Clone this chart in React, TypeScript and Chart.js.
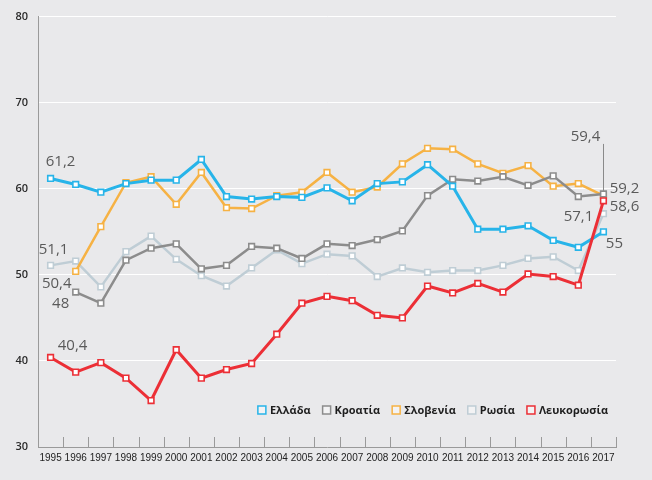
import React, { useEffect, useRef } from "react";
import { Chart, registerables } from "chart.js";

Chart.register(...registerables);

const years = ["1995","1996","1997","1998","1999","2000","2001","2002","2003","2004","2005","2006","2007","2008","2009","2010","2011","2012","2013","2014","2015","2016","2017"];
const greece = [61.2,60.5,59.6,60.6,61.0,61.0,63.4,59.1,58.8,59.1,59.0,60.1,58.6,60.6,60.8,62.8,60.3,55.3,55.3,55.7,54.0,53.2,55];
const croatia = [null,48,46.7,51.7,53.1,53.6,50.7,51.1,53.3,53.1,51.9,53.6,53.4,54.1,55.1,59.2,61.1,60.9,61.4,60.4,61.5,59.1,59.4];
const slovenia = [null,50.4,55.6,60.7,61.4,58.2,61.9,57.8,57.7,59.2,59.6,61.9,59.6,60.2,62.9,64.7,64.6,62.9,61.8,62.7,60.3,60.6,59.2];
const russia = [51.1,51.6,48.6,52.7,54.5,51.8,49.9,48.7,50.8,52.9,51.3,52.4,52.2,49.8,50.8,50.3,50.5,50.5,51.1,51.9,52.1,50.5,57.1];
const belarus = [40.4,38.7,39.8,38.0,35.4,41.3,38.0,39.0,39.7,43.1,46.7,47.5,47.0,45.3,45.0,48.7,47.9,49.0,48.0,50.1,49.8,48.8,58.6];
const seriesNames = ["Ελλάδα", "Κροατία", "Σλοβενία", "Ρωσία", "Λευκορωσία"];
const yTicks = [30, 40, 50, 60, 70, 80];

const BG = "#e9e9eb";
const colors = ["#27b4e9", "#8c8c8c", "#f6b244", "#bfcdd5", "#ec2f36"];

// annotations: [datasetIndex, pointIndex, dx, dy, leader]
const labelSpecs: [number, number, number, number, boolean][] = [
  [0, 0, 10, -17, false],
  [3, 0, 3, -16, false],
  [2, 1, -19, 12, false],
  [1, 1, -15, 12, false],
  [4, 0, 22, -12, false],
  [1, 22, -18, -57, true],
  [2, 22, 21, -7, false],
  [4, 22, 21, 6, false],
  [3, 22, -25, 3, false],
  [0, 22, 11, 12, false],
];

const fmt = (v: number) => String(v).replace(".", ",");

const decorPlugin = {
  id: "decor",
  beforeDatasetsDraw(chart: any) {
    const ctx = chart.ctx;
    const xs = chart.scales.x;
    const n = years.length;
    ctx.save();
    ctx.strokeStyle = "#9a9a9a";
    ctx.lineWidth = 1;
    for (let i = 1; i <= n; i++) {
      const x = Math.round(xs.left + (i * xs.width) / n) + 0.5;
      ctx.beginPath();
      ctx.moveTo(x, xs.top - 10);
      ctx.lineTo(x, xs.top);
      ctx.stroke();
    }
    ctx.restore();
  },
  afterDatasetsDraw(chart: any) {
    const ctx = chart.ctx;
    ctx.save();
    ctx.font = "15px 'Open Sans'";
    ctx.fillStyle = "#5a5a5a";
    ctx.textAlign = "center";
    ctx.textBaseline = "middle";
    for (const [di, pi, dx, dy, leader] of labelSpecs) {
      const pt = chart.getDatasetMeta(di).data[pi];
      const v = chart.data.datasets[di].data[pi];
      if (!pt || v == null) continue;
      ctx.fillText(fmt(v), pt.x + dx, pt.y + dy);
      if (leader) {
        ctx.strokeStyle = "#8a8a8a";
        ctx.lineWidth = 1;
        ctx.beginPath();
        ctx.moveTo(Math.round(pt.x) + 0.5, pt.y + dy + 7);
        ctx.lineTo(Math.round(pt.x) + 0.5, pt.y - 3);
        ctx.stroke();
      }
    }
    // legend
    ctx.font = "bold 11px 'Open Sans'";
    ctx.textAlign = "left";
    const box = 8, gapBox = 4, gapItem = 12;
    const widths = seriesNames.map((s) => ctx.measureText(s).width);
    const total = widths.reduce((a, w) => a + box + gapBox + w, 0) + gapItem * (seriesNames.length - 1);
    let x = chart.chartArea.right - 8 - total;
    const y = chart.chartArea.bottom - 37;
    seriesNames.forEach((s, i) => {
      ctx.fillStyle = "#f3f3f4";
      ctx.fillRect(x, y - box / 2, box, box);
      ctx.strokeStyle = colors[i];
      ctx.lineWidth = 1.5;
      ctx.strokeRect(x, y - box / 2, box, box);
      ctx.fillStyle = "#1e1e1e";
      ctx.fillText(s, x + box + gapBox, y + 1);
      x += box + gapBox + widths[i] + gapItem;
    });
    ctx.restore();
  },
};

export default function App() {
  const ref = useRef<HTMLCanvasElement>(null);
  useEffect(() => {
    document.body.style.margin = "0";
    document.body.style.background = BG;
    const data = [greece, croatia, slovenia, russia, belarus];
    const widthsL = [3, 2.5, 2.5, 2.5, 3];
    const orders = [1, 2, 3, 4, 0];
    const chart = new Chart(ref.current!, {
      type: "line",
      data: {
        labels: years,
        datasets: data.map((d, i) => ({
          label: seriesNames[i],
          data: d,
          borderColor: colors[i],
          backgroundColor: colors[i],
          borderWidth: widthsL[i],
          pointStyle: "rect",
          pointRadius: 4,
          pointBorderWidth: 1.6,
          pointBorderColor: colors[i],
          pointBackgroundColor: "#ffffff",
          tension: 0,
          order: orders[i],
        })),
      },
      options: {
        responsive: false,
        animation: false,
        devicePixelRatio: 1,
        layout: { padding: { top: 14, right: 36, left: 0, bottom: 0 } },
        plugins: { legend: { display: false }, tooltip: { enabled: false } },
        scales: {
          x: {
            offset: true,
            grid: { display: true, drawOnChartArea: false, drawTicks: false, offset: true },
            border: { display: true, color: "#9a9a9a", width: 1 },
            ticks: { color: "#222", padding: 5, maxRotation: 0, autoSkip: false, font: { family: "'Liberation Sans', Arial, sans-serif", size: 10 } },
            afterFit: (s: any) => { s.height = 33; },
          },
          y: {
            min: yTicks[0],
            max: yTicks[yTicks.length - 1],
            afterBuildTicks: (s: any) => { s.ticks = yTicks.map((v) => ({ value: v })); },
            grid: {
              drawTicks: false,
              color: (c: any) => (c.tick && c.tick.value === yTicks[0] ? "rgba(0,0,0,0)" : "#ffffff"),
              lineWidth: 1,
            },
            border: { display: true, color: "#9a9a9a", width: 1 },
            ticks: { color: "#2a2a2a", padding: 10, font: { family: "'Open Sans', sans-serif", size: 11, weight: "600" } },
            afterFit: (s: any) => { s.width = 38; },
          },
        },
      },
      plugins: [decorPlugin],
    } as any);
    return () => chart.destroy();
  }, []);
  return (
    <div style={{ width: 652, height: 480, background: BG }}>
      <canvas ref={ref} width={652} height={480} />
    </div>
  );
}
